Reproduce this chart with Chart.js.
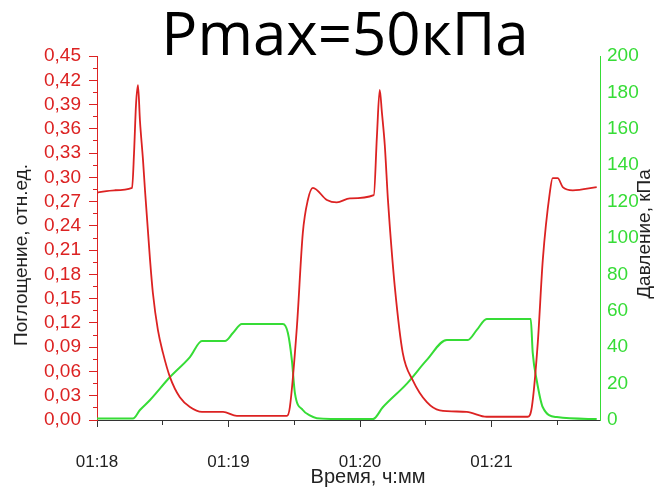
<!DOCTYPE html>
<html>
<head>
<meta charset="utf-8">
<script src="https://cdn.jsdelivr.net/npm/chart.js@4/dist/chart.umd.min.js"></script>
<style>
  html, body { margin: 0; padding: 0; background: #fff; }
</style>
</head>
<body>
<canvas id="chart" width="672" height="489"></canvas>
<script>
// time in seconds after 01:18:00
const absTime = [0, 8, 16, 16.9, 17.8, 18.7, 19.6, 21.0, 21.9, 24.2, 25.5, 27.8, 30.1, 33.3, 37.8, 42.4, 47.9, 57.5, 63.8,
  86.6, 88.0, 91.2, 93.9, 96.2, 98.5, 104.9, 109.4, 115.4, 126.3, 127.7, 129.0, 130.0, 131.3, 132.7, 133.6, 135.9,
  139.5, 144.1, 150.5, 156.4, 168.7, 177.8, 196.5, 198.4, 201.1, 203.4, 206.6, 207.9, 210.2, 212.5, 217.1, 228];
const absValue = [0.281, 0.284, 0.287, 0.33, 0.39, 0.414, 0.37, 0.321, 0.284, 0.198, 0.157, 0.111, 0.083, 0.053, 0.028, 0.016, 0.010, 0.010, 0.005,
  0.005, 0.016, 0.115, 0.231, 0.272, 0.287, 0.272, 0.269, 0.274, 0.278, 0.35, 0.408, 0.38, 0.34, 0.274, 0.239, 0.164,
  0.083, 0.049, 0.022, 0.012, 0.010, 0.004, 0.004, 0.016, 0.095, 0.198, 0.281, 0.299, 0.299, 0.288, 0.284, 0.288];

const presTime = [0, 16.4, 19.6, 24.2, 33.3, 42.4, 47.9, 58.4, 62.0, 66.1, 84.8, 87.1, 88.9, 90.3, 93.9, 97.1, 100.3, 115.4,
  125.9, 130.4, 141.4, 150.5, 159.6, 169.2, 173.3, 177.8, 197.9, 198.8, 200.6, 203.4, 209.8, 228];
const presValue = [0.8, 0.8, 5.5, 11, 23.6, 34.6, 43.4, 43.4, 47.8, 52.7, 52.7, 47.8, 33, 14.8, 5.5, 2.5, 1, 0.5,
  0.5, 7, 20, 33, 44, 44, 49.5, 55.5, 55.5, 37, 22, 7, 1.6, 0.5];

const RED = '#dc2222';
const GREEN = '#36dc36';
const FONT = '"Liberation Sans", Arial, sans-serif';

const textPlugin = {
  id: 'texts',
  afterDraw(chart) {
    const ctx = chart.ctx;
    ctx.save();
    ctx.textAlign = 'center';
    ctx.textBaseline = 'alphabetic';
    ctx.fillStyle = '#000';
    ctx.font = '60px "Open Sans", "Noto Sans", sans-serif';
    ctx.fillText('Pmax=50кПа', 345, 55);

    ctx.textBaseline = 'middle';
    ctx.fillStyle = '#222';
    ctx.font = '20px ' + FONT;
    ctx.fillText('Время, ч:мм', 368, 477);

    ctx.font = '19px ' + FONT;
    ctx.translate(22, 255);
    ctx.rotate(-Math.PI / 2);
    ctx.fillText('Поглощение, отн.ед.', 0, 0);
    ctx.restore();

    ctx.save();
    ctx.textAlign = 'center';
    ctx.textBaseline = 'middle';
    ctx.fillStyle = '#222';
    ctx.font = '19px ' + FONT;
    ctx.translate(645, 234);
    ctx.rotate(-Math.PI / 2);
    ctx.fillText('Давление, кПа', 0, 0);
    ctx.restore();
  }
};

new Chart(document.getElementById('chart'), {
  type: 'line',
  data: {
    datasets: [
      {
        label: 'Поглощение',
        data: absTime.map((t, i) => ({ x: t, y: absValue[i] })),
        borderColor: RED,
        borderWidth: 1.8,
        pointRadius: 0,
        cubicInterpolationMode: 'monotone',
        yAxisID: 'y'
      },
      {
        label: 'Давление',
        data: presTime.map((t, i) => ({ x: t, y: presValue[i] })),
        borderColor: GREEN,
        borderWidth: 2,
        pointRadius: 0,
        cubicInterpolationMode: 'monotone',
        yAxisID: 'y2'
      }
    ]
  },
  options: {
    responsive: false,
    animation: false,
    layout: { padding: { top: 56, left: 0, right: 0, bottom: 0 } },
    plugins: { legend: { display: false }, tooltip: { enabled: false } },
    scales: {
      x: {
        type: 'linear',
        min: 0,
        max: 229.5,
        afterFit: (s) => { s.height = 69; },
        border: { color: '#333', width: 1 },
        grid: {
          drawOnChartArea: false,
          color: '#333',
          tickLength: 7,
          tickBorderDash: (c) => (c.tick && c.tick.value % 60 !== 0 ? [4, 20] : [])
        },
        ticks: {
          stepSize: 30,
          includeBounds: false,
          autoSkip: false,
          maxRotation: 0,
          padding: 25,
          color: '#222',
          font: { family: FONT, size: 17 },
          callback: (v) => (v % 60 === 0 ? '01:' + (18 + v / 60) : '')
        }
      },
      y: {
        position: 'left',
        min: 0,
        max: 0.45,
        afterFit: (s) => { s.width = 97; },
        border: { color: RED, width: 1 },
        grid: {
          drawOnChartArea: false,
          color: RED,
          tickLength: 8,
          tickBorderDash: (c) => (c.index % 2 ? [4, 4] : []),
          tickBorderDashOffset: (c) => (c.index % 2 ? 4 : 0)
        },
        ticks: {
          stepSize: 0.015,
          autoSkip: false,
          padding: 8,
          color: RED,
          font: { family: FONT, size: 19 },
          callback: (v, i) => (i % 2 === 0 ? v.toFixed(2).replace('.', ',') : '')
        }
      },
      y2: {
        position: 'right',
        min: 0,
        max: 200,
        afterFit: (s) => { s.width = 72; },
        border: { color: GREEN, width: 1 },
        grid: { drawOnChartArea: false, drawTicks: false },
        ticks: {
          stepSize: 20,
          padding: 7,
          color: GREEN,
          font: { family: FONT, size: 19 }
        }
      }
    }
  },
  plugins: [textPlugin]
});
</script>
</body>
</html>
